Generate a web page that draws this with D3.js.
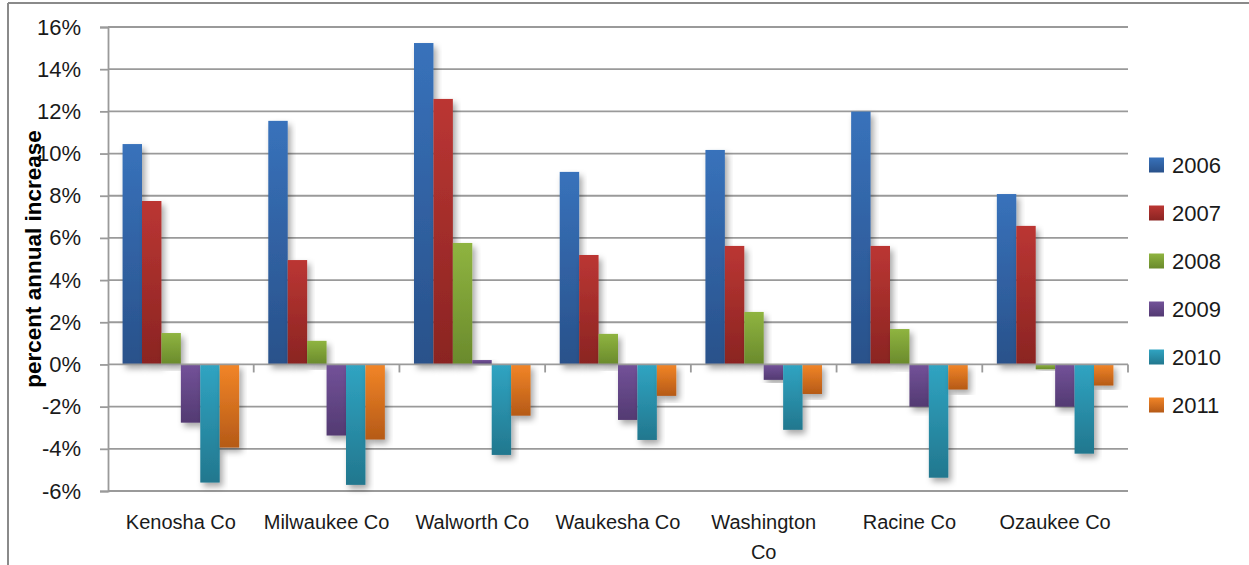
<!DOCTYPE html>
<html>
<head>
<meta charset="utf-8">
<script src="https://cdn.jsdelivr.net/npm/d3@7"></script>
<style>
  html, body { margin: 0; padding: 0; background: #fff; }
  svg { display: block; font-family: "Liberation Sans", Arial, sans-serif; }
</style>
</head>
<body>
<svg id="chart" width="1249" height="565"></svg>
<script>
// Counties along the x axis
const counties = ["Kenosha Co", "Milwaukee Co", "Walworth Co", "Waukesha Co", "Washington Co", "Racine Co", "Ozaukee Co"];
// Years shown as series
const years = ["2006", "2007", "2008", "2009", "2010", "2011"];
// Percent annual increase per year, one value per county (same order as counties)
const v2006 = [10.45, 11.55, 15.24, 9.13, 10.17, 11.99, 8.08];
const v2007 = [7.75, 4.95, 12.59, 5.19, 5.62, 5.62, 6.57];
const v2008 = [1.49, 1.12, 5.76, 1.45, 2.49, 1.68, -0.23];
const v2009 = [-2.76, -3.37, 0.21, -2.63, -0.73, -2.00, -2.00];
const v2010 = [-5.60, -5.71, -4.29, -3.58, -3.10, -5.37, -4.23];
const v2011 = [-3.94, -3.56, -2.43, -1.49, -1.40, -1.19, -1.00];
// Y axis ticks (percent)
const yTicks = [-6, -4, -2, 0, 2, 4, 6, 8, 10, 12, 14, 16];

const seriesValues = [v2006, v2007, v2008, v2009, v2010, v2011];
// Gradient stops (top, bottom) per series
const colorTop = ["#3872bb", "#bb3633", "#8fb440", "#735299", "#30a4c2", "#f28527"];
const colorBot = ["#29518a", "#8a2422", "#6a8a2c", "#533a72", "#22778e", "#b55a17"];

const svg = d3.select("#chart");
const plotLeft = 108, plotRight = 1128, plotTop = 27, plotBottom = 491;

const x = d3.scaleBand().domain(counties).range([plotLeft, plotRight]).paddingInner(0).paddingOuter(0);
const y = d3.scaleLinear().domain([-6, 16]).range([plotBottom, plotTop]);
const gap = x.bandwidth() * 0.2;
const xs = d3.scaleBand().domain(years).range([gap / 2, x.bandwidth() - gap / 2]).padding(0);

const defs = svg.append("defs");
years.forEach((yr, i) => {
  const g = defs.append("linearGradient").attr("id", "grad" + yr)
    .attr("x1", 0).attr("y1", 0).attr("x2", 0).attr("y2", 1);
  g.append("stop").attr("offset", "0%").attr("stop-color", colorTop[i]);
  g.append("stop").attr("offset", "100%").attr("stop-color", colorBot[i]);
});
const f = defs.append("filter").attr("id", "shadow")
  .attr("x", "-30%").attr("y", "-10%").attr("width", "170%").attr("height", "130%");
f.append("feDropShadow").attr("dx", 3).attr("dy", 4).attr("stdDeviation", 3)
  .attr("flood-color", "#000").attr("flood-opacity", 0.35);

// Outer frame
svg.append("line").attr("x1", 8).attr("x2", 1249).attr("y1", 3).attr("y2", 3)
  .attr("stroke", "#8a8a8a").attr("stroke-width", 2);
svg.append("line").attr("x1", 8).attr("x2", 8).attr("y1", 3).attr("y2", 565)
  .attr("stroke", "#8a8a8a").attr("stroke-width", 2);

// Horizontal gridlines
svg.append("g").selectAll("line").data(yTicks.filter(t => t !== 0)).join("line")
  .attr("x1", plotLeft).attr("x2", plotRight)
  .attr("y1", d => y(d)).attr("y2", d => y(d))
  .attr("stroke", "#9a9a9a").attr("stroke-width", 1.8);

// Y axis
const yAxis = d3.axisLeft(y).tickValues(yTicks).tickSize(8).tickPadding(19)
  .tickFormat(d => d + "%");
const gy = svg.append("g").attr("transform", `translate(${plotLeft},0)`).call(yAxis);
gy.select(".domain").attr("stroke", "#9a9a9a").attr("stroke-width", 1.8);
gy.selectAll(".tick line").attr("stroke", "#9a9a9a").attr("stroke-width", 1.8);
gy.selectAll(".tick text").attr("font-size", 22).attr("fill", "#1a1a1a")
  .attr("font-family", "Liberation Sans, Arial, sans-serif");

// Bars
const groups = svg.append("g").selectAll("g").data(counties).join("g")
  .attr("transform", d => `translate(${x(d)},0)`);
groups.selectAll("rect")
  .data((c, ci) => years.map((yr, si) => ({ yr, v: seriesValues[si][ci] })))
  .join("rect")
  .attr("x", d => xs(d.yr))
  .attr("width", xs.bandwidth())
  .attr("y", d => y(Math.max(0, d.v)))
  .attr("height", d => Math.abs(y(d.v) - y(0)))
  .attr("fill", d => `url(#grad${d.yr})`)
  .attr("filter", "url(#shadow)");

// Zero line with category tick marks
svg.append("line").attr("x1", plotLeft).attr("x2", plotRight).attr("y1", y(0)).attr("y2", y(0))
  .attr("stroke", "#9a9a9a").attr("stroke-width", 1.8);
const bounds = counties.map(c => x(c)).concat([plotRight]);
svg.append("g").selectAll("line").data(bounds.slice(1)).join("line")
  .attr("x1", d => d).attr("x2", d => d)
  .attr("y1", y(0)).attr("y2", y(0) + 8)
  .attr("stroke", "#9a9a9a").attr("stroke-width", 1.8);

// Category labels (wrapped when wider than the band)
const labels = svg.append("g").selectAll("text").data(counties).join("text")
  .attr("x", d => x(d) + x.bandwidth() / 2)
  .attr("y", 529)
  .attr("text-anchor", "middle")
  .attr("font-size", 20)
  .attr("fill", "#1a1a1a")
  .text(d => d);
labels.each(function (d) {
  const t = d3.select(this);
  if (this.getComputedTextLength() > x.bandwidth() * 0.9) {
    const words = d.split(" ");
    const last = words.pop();
    t.text(null);
    t.append("tspan").attr("x", x(d) + x.bandwidth() / 2).attr("dy", 0).text(words.join(" "));
    t.append("tspan").attr("x", x(d) + x.bandwidth() / 2).attr("dy", 30).text(last);
  }
});

// Y axis title
svg.append("text")
  .attr("transform", `translate(41,${(plotTop + plotBottom) / 2}) rotate(-90)`)
  .attr("text-anchor", "middle")
  .attr("font-size", 22.5)
  .attr("font-weight", "bold")
  .attr("fill", "#000")
  .text("percent annual increase");

// Legend
const legend = svg.append("g").selectAll("g").data(years).join("g")
  .attr("transform", (d, i) => `translate(1149,${165 + i * 48})`);
legend.append("rect").attr("x", 0).attr("y", -7.5).attr("width", 15).attr("height", 15)
  .attr("fill", d => `url(#grad${d})`);
legend.append("text").attr("x", 23).attr("y", 0).attr("dy", "0.36em")
  .attr("font-size", 22).attr("fill", "#1a1a1a").text(d => d);
</script>
</body>
</html>
